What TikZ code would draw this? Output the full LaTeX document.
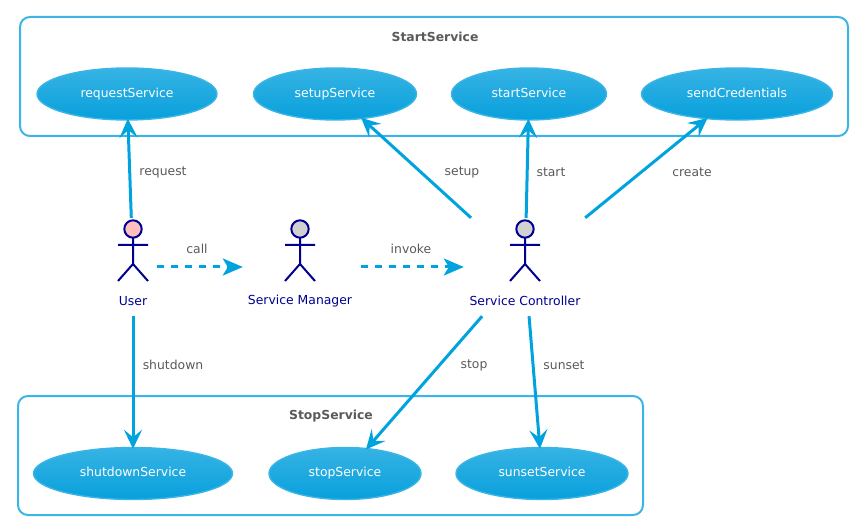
\documentclass[tikz,border=0pt]{standalone}
\usepackage{fontspec}
\setmainfont{DejaVu Sans}
\usetikzlibrary{shapes.geometric, arrows.meta}
\definecolor{edgeblue}{HTML}{00A3DE}
\definecolor{rimblue}{HTML}{3BB5E6}
\definecolor{topblue}{HTML}{36B3E4}
\definecolor{lowblue}{HTML}{08A0DC}
\definecolor{navyline}{HTML}{000090}
\definecolor{labelgray}{HTML}{5A5A5A}

\tikzset{
  usecase/.style={ellipse, draw=rimblue, line width=1.4pt, top color=topblue, bottom color=lowblue,
    text=white, font=\fontsize{12.4pt}{15pt}\selectfont, inner sep=0pt, minimum height=52pt,
    text height=9.5pt, text depth=3pt},
  framebox/.style={draw=rimblue, line width=2pt, rounded corners=10pt},
  frametitle/.style={text=labelgray, font=\fontsize{12.4pt}{15pt}\selectfont\bfseries},
  actorbox/.style={inner sep=0pt, minimum height=98pt},
  actorname/.style={text=navyline, font=\fontsize{12.4pt}{15pt}\selectfont},
  edgelabel/.style={text=labelgray, font=\fontsize{12.4pt}{15pt}\selectfont},
  solidedge/.style={draw=edgeblue, line width=3pt, shorten >=-2pt,
    -{Stealth[length=19pt, width=18pt, inset=7.5pt]}},
  dashedge/.style={draw=edgeblue, line width=3pt, dash pattern=on 7pt off 7pt,
    -{Stealth[length=20pt, width=17pt, inset=5pt]}},
}

% stick figure round the centre of an actor box
\newcommand{\stickman}[3]{
  \begin{scope}[shift={(#1,#2)}, draw=navyline, line width=2pt]
    \draw (0,-28) -- (0,-2) (-15,-21) -- (15,-21) (-15,15) -- (0,-2) -- (15,15);
    \draw[fill=#3] (0,-37) circle (8.7);
  \end{scope}
}

\begin{document}
\begin{tikzpicture}[x=1pt, y=-1pt]
   \useasboundingbox (0,0) rectangle (859,526);

   \draw[framebox] (20,17) rectangle (848,136);
   \draw[framebox] (18,396) rectangle (643,515);
   \node[frametitle] (starttitle) at (435,37) {StartService};
   \node[frametitle] (stoptitle) at (331,416) {StopService};

   \node[usecase, minimum width=180pt] (request) at (127,94) {requestService};
   \node[usecase, minimum width=163pt] (setup) at (335,94) {setupService};
   \node[usecase, minimum width=155pt] (start) at (529,94) {startService};
   \node[usecase, minimum width=191pt] (send) at (737,94) {sendCredentials};
   \node[usecase, minimum width=199pt] (shutdown) at (133,473.5) {shutdownService};
   \node[usecase, minimum width=152pt] (stop) at (345,473.5) {stopService};
   \node[usecase, minimum width=172pt] (sunset) at (542,473.5) {sunsetService};

   \node[actorbox, minimum width=48pt] (user) at (133,267) {};
   \node[actorbox, minimum width=118pt] (manager) at (302,267) {};
   \node[actorbox, minimum width=122pt] (controller) at (525,267) {};
   \node[actorname] (username) at (133,301) {User};
   \node[actorname] (managername) at (300,301) {Service Manager};
   \node[actorname] (controllername) at (525,301) {Service Controller};

   \path
    (user) edge[solidedge] (request)
           edge[solidedge] (shutdown)
           edge[dashedge] (manager)
    (manager) edge[dashedge] (controller)
    (controller) edge[solidedge] (setup)
                 edge[solidedge] (start)
                 edge[solidedge] (send)
                 edge[solidedge] (stop)
                 edge[solidedge] (sunset);

   \stickman{133}{266}{pink}
   \stickman{300}{266}{black!18}
   \stickman{525}{266}{black!18}

   \node[edgelabel] (requestlabel) at (163,172) {request};
   \node[edgelabel] (setuplabel) at (462,172) {setup};
   \node[edgelabel] (startlabel) at (551,172) {start};
   \node[edgelabel] (createlabel) at (692,172) {create};
   \node[edgelabel] (calllabel) at (197,249) {call};
   \node[edgelabel] (invokelabel) at (411,249) {invoke};
   \node[edgelabel] (shutdownlabel) at (173,365) {shutdown};
   \node[edgelabel] (stoplabel) at (474,365) {stop};
   \node[edgelabel] (sunsetlabel) at (564,365) {sunset};
\end{tikzpicture}
\end{document}
